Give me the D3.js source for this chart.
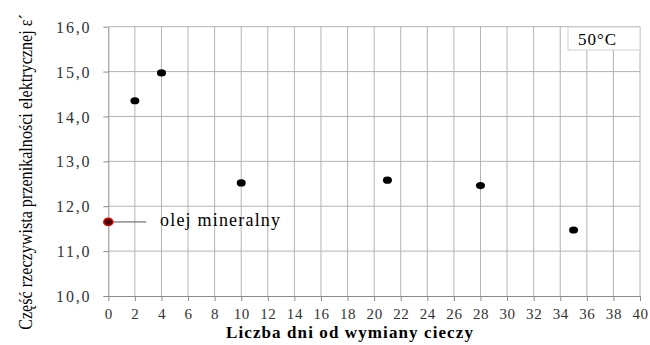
<!DOCTYPE html>
<html>
<head>
<meta charset="utf-8">
<script src="https://cdn.jsdelivr.net/npm/d3@7"></script>
<style>
  body { margin: 0; background: #fff; }
  svg { display: block; }
  svg text { font-family: "Liberation Serif", "Times New Roman", "DejaVu Serif", "Noto Serif", serif; }
</style>
</head>
<body>
<script>
// data
var days = [2, 4, 10, 21, 28, 35];
var eps = [14.35, 14.97, 12.52, 12.58, 12.46, 11.47];
var refDay = [0];
var refEps = [11.65];
var xTicks = d3.range(0, 41, 2);
var yTicks = [10, 11, 12, 13, 14, 15, 16];

var width = 650, height = 345;
var svg = d3.select("body").append("svg")
  .attr("width", width)
  .attr("height", height);

var x = d3.scaleLinear().domain([0, 40]).range([108.3, 640]);
var y = d3.scaleLinear().domain([10, 16]).range([296, 26.7]);
var fmt = function(d) { return d.toFixed(1).replace(".", ","); };

// grid
var grid = svg.append("g").attr("stroke", "#b4b4b4").attr("stroke-width", 1);
grid.selectAll(".v").data(xTicks.slice(1)).enter().append("line")
  .attr("x1", function(d){ return x(d); }).attr("x2", function(d){ return x(d); })
  .attr("y1", y(16)).attr("y2", y(10));
grid.selectAll(".h").data(yTicks.slice(1)).enter().append("line")
  .attr("x1", x(0)).attr("x2", x(40))
  .attr("y1", function(d){ return y(d); }).attr("y2", function(d){ return y(d); });

// axes
var xAxis = svg.append("g")
  .attr("transform", "translate(0," + y(10) + ")")
  .call(d3.axisBottom(x).tickValues(xTicks).tickSize(5).tickPadding(7).tickSizeOuter(0));
var yAxis = svg.append("g")
  .attr("transform", "translate(" + x(0) + ",0)")
  .call(d3.axisLeft(y).tickValues(yTicks).tickFormat(fmt).tickSize(5).tickPadding(12).tickSizeOuter(0));
[xAxis, yAxis].forEach(function(a){
  a.attr("font-family", null);
  a.select(".domain").attr("stroke", "#8c8c8c");
  a.selectAll(".tick line").attr("stroke", "#8c8c8c");
  a.selectAll("text")
    .style("font-size", "15px")
    .attr("fill", "#333");
});
yAxis.selectAll("text").attr("dy", "0.35em").attr("letter-spacing", 1.8).style("font-size", "16px");
xAxis.selectAll("text").attr("letter-spacing", 0.6);

// axis titles
svg.append("text")
  .attr("x", 350).attr("y", 338)
  .attr("text-anchor", "middle")
  .style("font-size", "17px").style("font-weight", "bold")
  .attr("letter-spacing", 1.1)
  .text("Liczba dni od wymiany  cieczy");

// y title: squeeze along its length to the span of the reference
var yTitle = svg.append("text")
  .attr("text-anchor", "middle")
  .style("font-size", "19px")
  .text("Część rzeczywista przenikalności elektrycznej ε´");
var sx = 316 / yTitle.node().getComputedTextLength();
yTitle.attr("transform", "translate(32,172) rotate(-90) scale(" + sx + ",1)");

// points
svg.append("g").selectAll("ellipse").data(days).enter().append("ellipse")
  .attr("cx", function(d){ return x(d); })
  .attr("cy", function(d, i){ return y(eps[i]); })
  .attr("rx", 4.5).attr("ry", 3.6)
  .attr("fill", "#000");

// mineral oil reference
svg.append("line")
  .attr("x1", x(refDay[0])).attr("x2", x(refDay[0]) + 38)
  .attr("y1", y(refEps[0])).attr("y2", y(refEps[0]))
  .attr("stroke", "#555").attr("stroke-width", 1);
svg.append("ellipse")
  .attr("cx", x(refDay[0])).attr("cy", y(refEps[0]))
  .attr("rx", 4.5).attr("ry", 3.6)
  .attr("fill", "#4a0000").attr("stroke", "#e00000").attr("stroke-width", 1.5);
svg.append("text")
  .attr("x", 160).attr("y", y(refEps[0]) + 4)
  .style("font-size", "18px")
  .attr("letter-spacing", 1.2)
  .text("olej mineralny");

// temperature box
svg.append("rect")
  .attr("x", 568).attr("y", 27).attr("width", 72).attr("height", 23)
  .attr("fill", "#fff").attr("stroke", "#d0d0d0");
svg.append("text")
  .attr("x", 578).attr("y", 44.5)
  .style("font-size", "17px")
  .attr("letter-spacing", 1)
  .text("50°C");
</script>
</body>
</html>
